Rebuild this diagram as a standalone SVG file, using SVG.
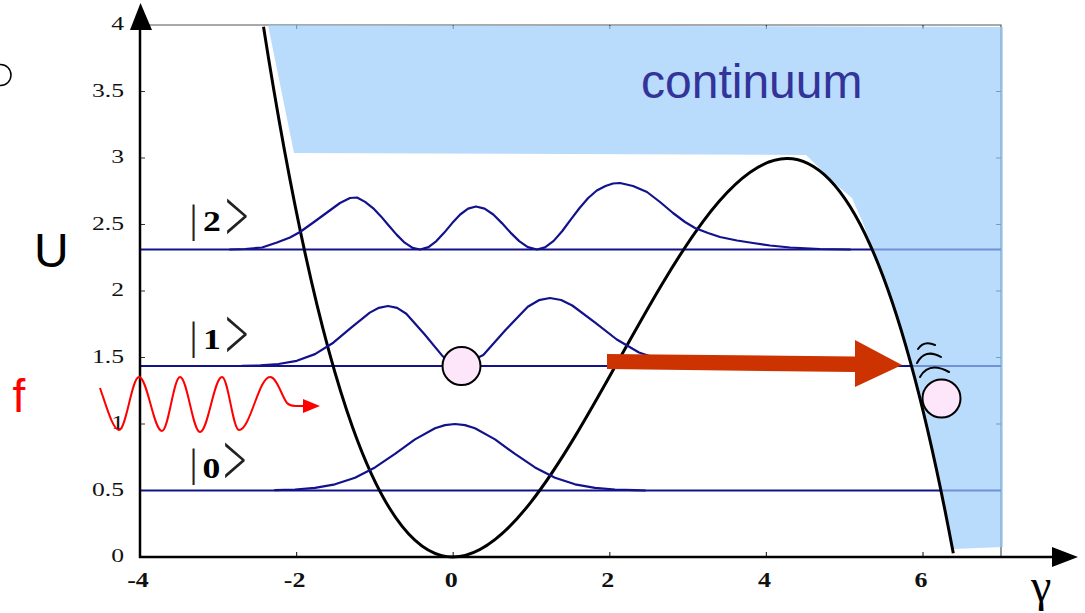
<svg xmlns="http://www.w3.org/2000/svg" width="1085" height="613" viewBox="0 0 1085 613">
<defs>
<style>
.frame{stroke:#555;stroke-width:1.2;fill:none}
.tick{stroke:#333;stroke-width:1.2}
.axis{stroke:#000;stroke-width:2.5;fill:none}
.lvl{stroke:#12128c;stroke-width:2;fill:none}
.wf{stroke:#12128c;stroke-width:2.2;fill:none;stroke-linejoin:round;stroke-linecap:round}
.pot{stroke:#000;stroke-width:3;fill:none}
.ball{fill:#fde6fa;stroke:#000;stroke-width:2}
.ylab{font-family:"Liberation Serif",serif;font-size:19px;fill:#111;text-anchor:end}
.xlab{font-family:"Liberation Serif",serif;font-size:20px;font-weight:bold;fill:#111;text-anchor:middle}
.bar{font-family:"Liberation Serif",serif;font-size:40px;fill:#222}
.num{font-family:"Liberation Serif",serif;font-size:28.5px;font-weight:bold;fill:#000}
.chev{font-family:"Liberation Serif",serif;font-size:42px;fill:#222}
.arc{stroke:#000;stroke-width:2;fill:none;stroke-linecap:round}
.red{stroke:#ff0000;stroke-width:2;fill:none}
</style>
</defs>
<rect width="1085" height="613" fill="#fff"/>

<g id="frame">
<path class="frame" d="M140,25 H1001 V557"/>
<path class="tick" d="M296.6,25v4 M453.2,25v4 M609.8,25v4 M766.4,25v4 M923,25v4 M1001,91.5h-5 M1001,158h-5 M1001,224.5h-5 M1001,291h-5 M1001,357.5h-5 M1001,424h-5 M1001,490.5h-5"/>
<path class="tick" d="M140,91.5h5 M140,158h5 M140,224.5h5 M140,291h5 M140,357.5h5 M140,424h5 M140,490.5h5 M296.6,557v-5 M453.2,557v-5 M609.8,557v-5 M766.4,557v-5 M923,557v-5"/>
</g>

<g id="levels">
<path class="lvl" d="M140,490.5 H1001 M140,366 H1001 M140,249.5 H1001"/>
</g>

<g id="continuum">
<path fill="#9acbfb" fill-opacity="0.69" d="M268,25 L1003,27 L1003,547 L952.6,549 L938.5,478.4 L922.8,409.5 L907.1,350.2 L891.5,299.7 L875.8,257.9 L863,223 L852,198 L840,188 L806,155 L294,153 Z"/>
<text x="641" y="98" font-family="Liberation Sans, Arial, sans-serif" font-size="48" fill="#333399">continuum</text>
</g>

<g id="axes">
<path class="axis" d="M140,28 V558 M139,557 H1055"/>
<polygon points="140.5,3 130,30 152,30" fill="#000"/>
<polygon points="1052,547 1078,557 1052,567" fill="#000"/>
<g transform="scale(1.35,1)">
<text class="ylab" x="91.85" y="30.5">4</text>
<text class="ylab" x="91.85" y="97">3.5</text>
<text class="ylab" x="91.85" y="163.5">3</text>
<text class="ylab" x="91.85" y="230">2.5</text>
<text class="ylab" x="91.85" y="296.5">2</text>
<text class="ylab" x="91.85" y="363">1.5</text>
<text class="ylab" x="91.85" y="429.5">1</text>
<text class="ylab" x="91.85" y="496">0.5</text>
<text class="ylab" x="91.85" y="562.5">0</text>
</g>
<g transform="scale(1.3,1)">
<text class="xlab" x="106.15" y="587">-4</text>
<text class="xlab" x="226.6" y="587">-2</text>
<text class="xlab" x="347.1" y="587">0</text>
<text class="xlab" x="467.5" y="587">2</text>
<text class="xlab" x="588" y="587">4</text>
<text class="xlab" x="708.5" y="587">6</text>
</g>
<text x="34" y="267" font-family="Liberation Sans, Arial, sans-serif" font-size="48" fill="#000">U</text>
<text x="1031" y="601" font-family="Liberation Serif, serif" font-size="46" fill="#000">γ</text>
</g>

<g id="potential">
<path class="pot" d="M263.5,26.7 C493.5,1490.3 723.4,-674.3 953.3,553.3"/>
</g>

<g id="wavefunctions">
<polyline class="wf" points="275,490.2 295,489.5 315,487.9 335,484.3 355,477.8 375,467.4 395,453.9 415,439.4 435,428.3 445,425.1 455,424 465,425.1 475,428.3 495,439.4 515,453.9 535,467.4 555,477.8 575,484.3 595,487.9 615,489.5 635,490.2 645,490.5"/>
<polyline class="wf" points="242,365.8 260.3,365.4 278.5,364 296.8,360.8 315,354.1 333.3,342.7 351.5,327.3 369.8,312.6 378.9,307.8 388,306 397.1,307.9 406.3,313.7 424.5,334.3 442.8,356.4 461,366 483.3,355.1 505.5,330 527.8,306.8 538.9,300.2 550,298 561.1,300 572.3,305.5 594.5,322.1 616.8,339.5 639,352.5 661.3,360.1 683.5,363.8 705.8,365.3 728,365.8"/>
<polyline class="wf" points="230,249.5 245,249 262,247.5 277,242.5 290,237.5 300,232 314,222 327,212.5 340,203 350,198 357,197.5 365.1,201.9 373,208.1 381,216.4 388.9,225.7 396.8,234.9 404.7,242.7 412.6,247.9 420,249.5 428.5,247.1 436.4,241.1 444.3,232.6 452.2,223.1 460.2,214.5 468.1,208.6 476,206.5 484.6,208.6 493.3,214.5 501.9,223.1 510.5,232.6 519.2,241.1 527.8,247.1 537,249.5 545,247.4 553.7,240.9 562.3,231 570.9,219.3 579.6,208 588.2,198 596.8,190.5 605.5,186 613,183.5 620,183 633,186 647,192 660,202 673,213 685,222 695,228 708,233 720,237 737,240.5 753,243 770,245.5 790,247.5 820,249 850,249.5"/>
</g>

<g id="ket0">
<text class="bar" x="189.5" y="476">|</text>
<text class="num" transform="translate(202.5,477.5) scale(1.25,1)">0</text>
<text class="chev" transform="translate(223,485) scale(1,1.75)">&gt;</text>
</g>
<g id="ket1">
<text class="bar" x="189.5" y="349">|</text>
<text class="num" transform="translate(203,348.5) scale(1.25,1)">1</text>
<text class="chev" transform="translate(225,359) scale(1,1.75)">&gt;</text>
</g>
<g id="ket2">
<text class="bar" x="189.5" y="232">|</text>
<text class="num" transform="translate(203,230.5) scale(1.25,1)">2</text>
<text class="chev" transform="translate(225,241) scale(1,1.75)">&gt;</text>
</g>

<g id="drive">
<text x="12.5" y="412" font-family="Liberation Sans, Arial, sans-serif" font-size="46" fill="#ff0000">f</text>
</g>

<g id="ball-bound">
<circle class="ball" cx="461.5" cy="366" r="19"/>
</g>
<g id="ball-escaped">
<circle class="ball" cx="941.5" cy="398.5" r="19"/>
<path class="arc" d="M918,349 Q924,340 935,345 M917,363 Q925,348 941,357 M920,377 Q929,361 949,372"/>
</g>

<g id="marker-circle">
<circle cx="0.5" cy="75" r="10.5" fill="none" stroke="#000" stroke-width="1.5"/>
</g>

<g id="connectors">
<path class="red" d="M100,388 C107,408 113,430 119,430 C126.3,430 131.7,377 139,377 C147.3,377 153.7,431 162,431 C168.5,431 173.5,377 180,377 C187.3,377 192.7,432 200,432 C208,432 214,377 222,377 C228.2,377 232.8,430 239,430 C250.3,430 258.7,377 270,377 C277,377 282,397 287,403 Q290,406 295,406 L305,406"/>
<polygon points="303,399 320,406 303,413" fill="#ff0000"/>
<polygon points="607,354 855,356.5 855,340 902,365 855,387 855,372 607,369" fill="#cc3300"/>
</g>
</svg>
